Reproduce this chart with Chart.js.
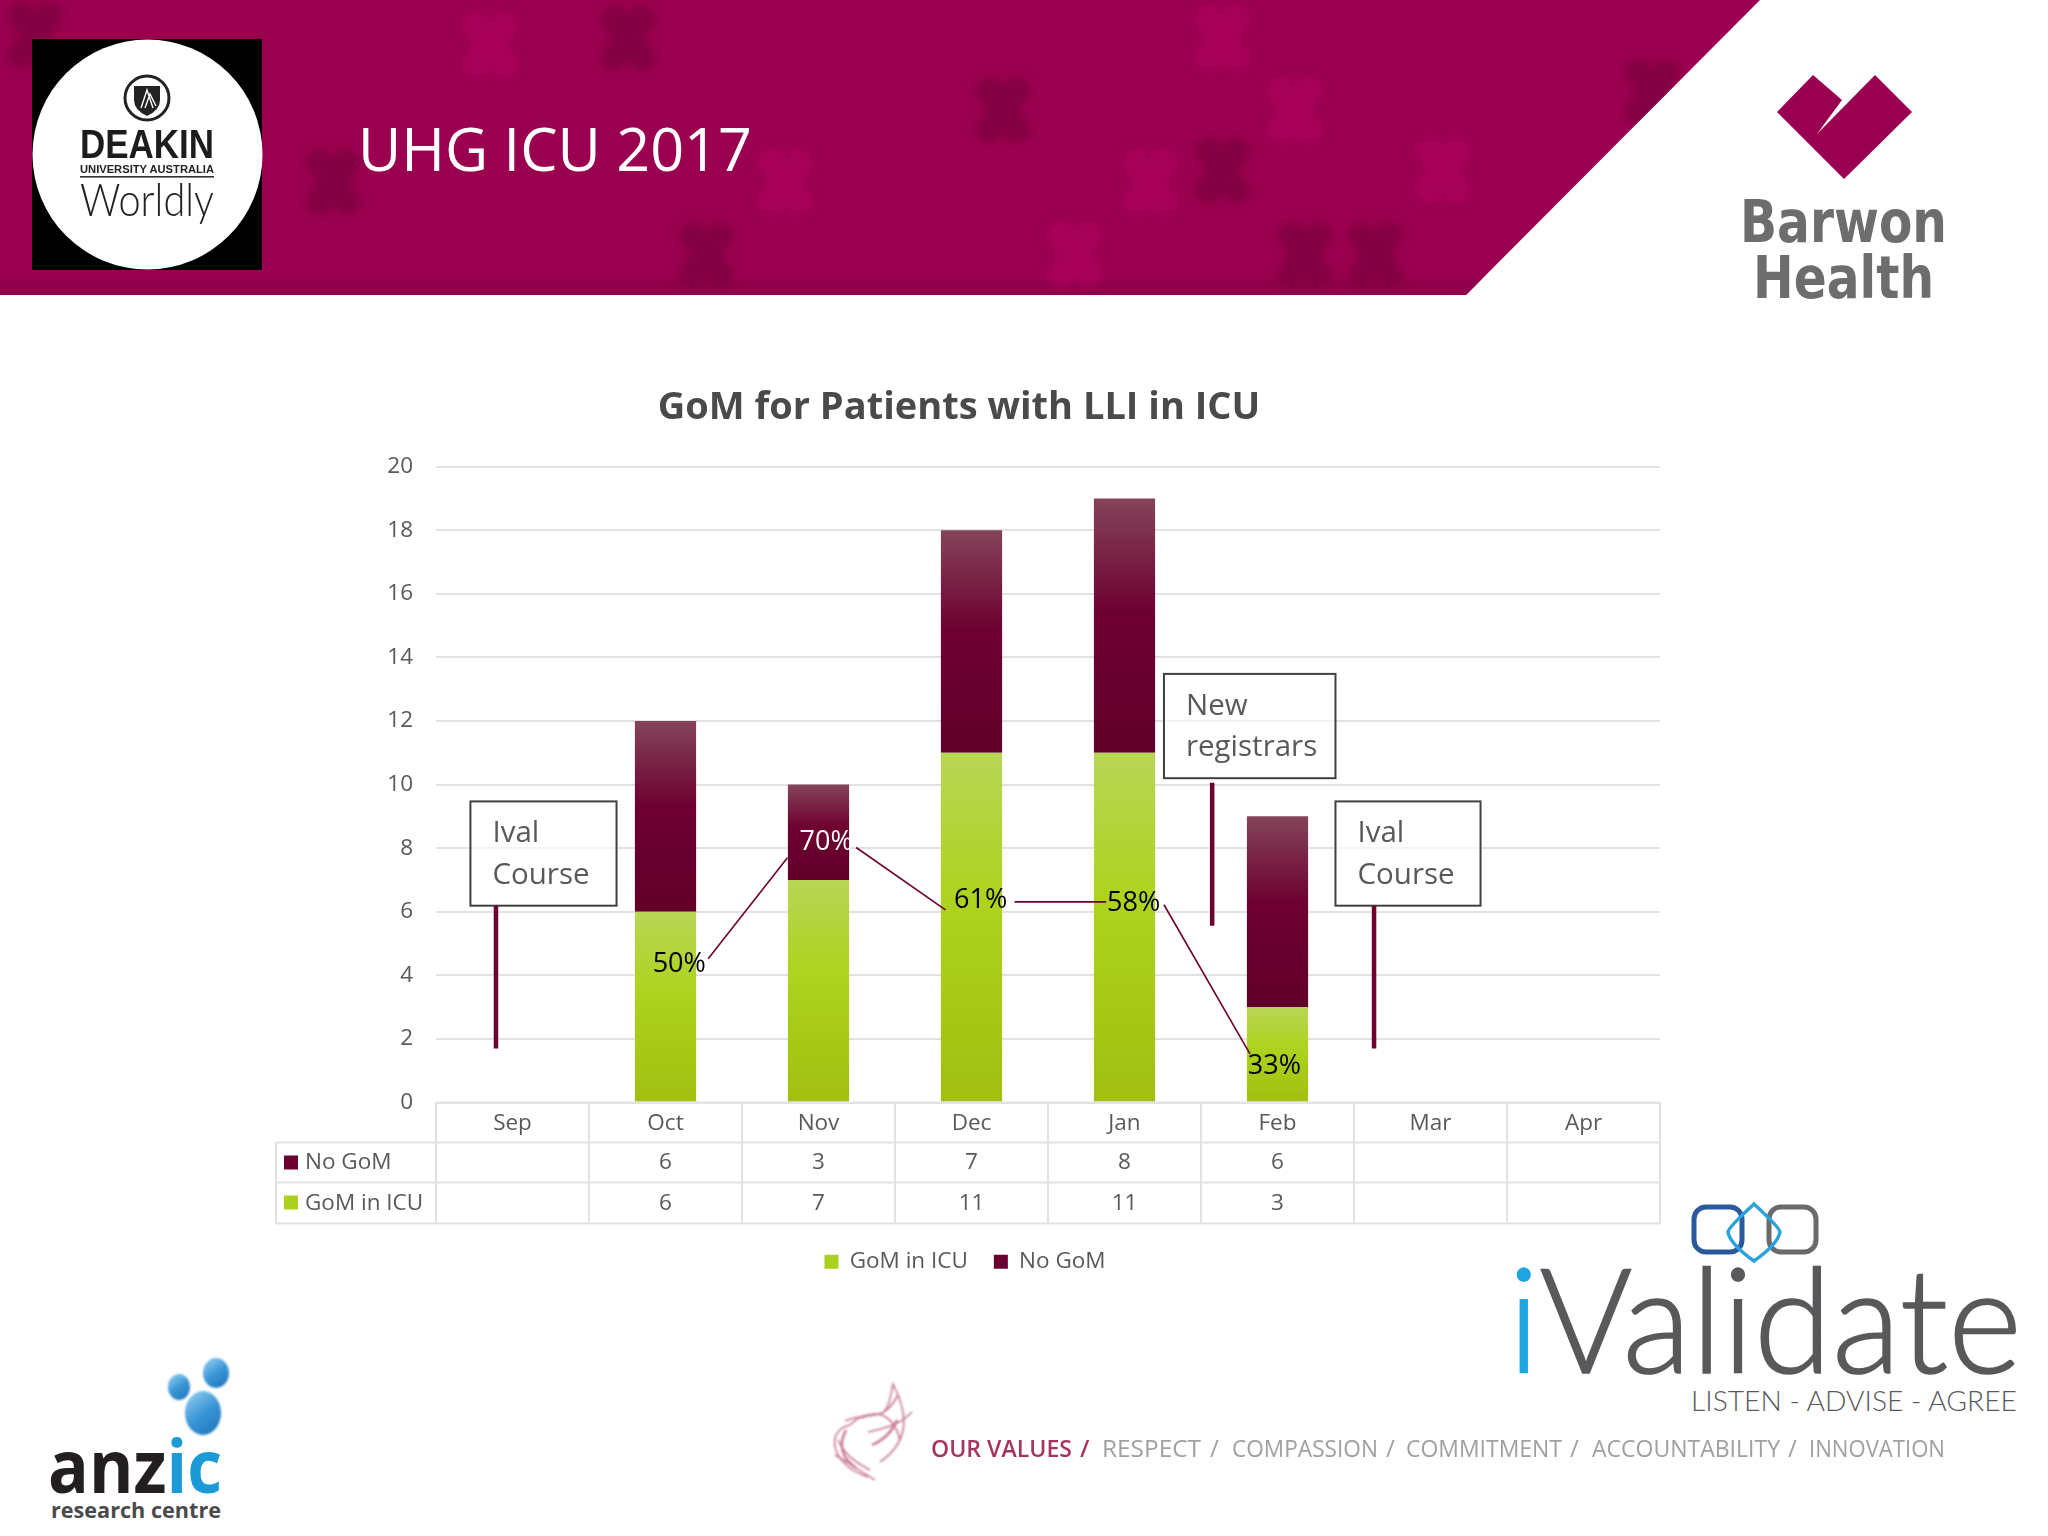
<!DOCTYPE html>
<html>
<head>
<meta charset="utf-8" />
<title>UHG ICU 2017</title>
<script src="https://cdn.jsdelivr.net/npm/chart.js@4"></script>
<style>
 html, body { margin: 0; padding: 0; background: #fff; }
 #page { position: relative; width: 2048px; height: 1536px; overflow: hidden; }
 #page svg { position: absolute; left: 0; top: 0; }
 #chartBox { position: absolute; left: 0; top: 0; width: 2048px; height: 1536px; }
</style>
</head>
<body>
<div id="page">
<svg width="2048" height="1536" xmlns="http://www.w3.org/2000/svg">
  <defs>
    <filter id="soft" x="-50%" y="-50%" width="200%" height="200%"><feGaussianBlur stdDeviation="4" /></filter>
    <filter id="softer" x="-50%" y="-50%" width="200%" height="200%"><feGaussianBlur stdDeviation="1.2" /></filter>
    <filter id="softest" x="-10%" y="-50%" width="120%" height="200%"><feGaussianBlur stdDeviation="0.6" /></filter>
    <clipPath id="headClip"><polygon points="0,0 1760,0 1466,295 0,295" /></clipPath>
    <g id="cross">
      <rect x="-13" y="-36" width="26" height="72" rx="6" transform="rotate(-35)" />
      <rect x="-13" y="-36" width="26" height="72" rx="6" transform="rotate(35)" />
    </g>
    <linearGradient id="bubble" x1="0.2" y1="0" x2="0.8" y2="1">
      <stop offset="0" stop-color="#8ccbef" /><stop offset="0.5" stop-color="#3a97d6" /><stop offset="1" stop-color="#1f78bd" />
    </linearGradient>
  </defs>

  <!-- header band -->
  <polygon points="0,0 1760,0 1466,295 0,295" fill="#9b0050" />
  <g clip-path="url(#headClip)">
    <rect x="0" y="279" width="1500" height="16" fill="#8c0049" opacity="0.7" />
    <g fill="#7d0040" filter="url(#soft)" opacity="0.75">
      <use href="#cross" x="35" y="35" /><use href="#cross" x="628" y="38" /><use href="#cross" x="1003" y="110" />
      <use href="#cross" x="333" y="182" /><use href="#cross" x="706" y="255" /><use href="#cross" x="1222" y="170" />
      <use href="#cross" x="1305" y="255" /><use href="#cross" x="1375" y="255" /><use href="#cross" x="1652" y="92" />
    </g>
    <g fill="#b40062" filter="url(#soft)" opacity="0.55">
      <use href="#cross" x="490" y="45" /><use href="#cross" x="1222" y="38" /><use href="#cross" x="1295" y="110" />
      <use href="#cross" x="785" y="182" /><use href="#cross" x="1150" y="182" /><use href="#cross" x="1443" y="170" />
      <use href="#cross" x="1075" y="255" />
    </g>
  </g>
  <text x="358" y="171" font-family="Open Sans" font-size="60" fill="#ffffff" textLength="394" lengthAdjust="spacingAndGlyphs">UHG ICU 2017</text>

  <!-- Deakin logo -->
  <rect x="32" y="39" width="230" height="231" fill="#000" />
  <circle cx="147.5" cy="154.5" r="115" fill="#fff" />
  <circle cx="147" cy="98" r="22" fill="none" stroke="#222" stroke-width="3" />
  <path d="M134 86 H160 V100 Q160 110 147 116 Q134 110 134 100 Z" fill="#222" />
  <path d="M141 108 L147 90 L153 108 M145 108 L150 94 L156 106" fill="none" stroke="#fff" stroke-width="1.4" />
  <text x="80" y="158" font-family="Liberation Sans Narrow, Liberation Sans" font-weight="700" font-size="41" fill="#1c1c1c" textLength="134" lengthAdjust="spacingAndGlyphs">DEAKIN</text>
  <text x="80" y="173" font-family="Liberation Sans" font-weight="700" font-size="10" fill="#222" textLength="134" lengthAdjust="spacingAndGlyphs">UNIVERSITY AUSTRALIA</text>
  <rect x="80" y="176" width="134" height="1.6" fill="#333" />
  <text x="80" y="216" font-family="Lato" font-weight="300" font-size="46" fill="#222" textLength="134" lengthAdjust="spacingAndGlyphs">Worldly</text>

  <!-- Barwon Health logo -->
  <polygon points="1813,75 1777,112 1817,152 1817,134 1842,100" fill="#9b0050" />
  <polygon points="1875,75 1912,112 1844,179 1817,152 1817,134" fill="#9b0050" />
  <text x="1740" y="242" font-family="DejaVu Sans" font-weight="700" font-size="58" fill="#6d6d6d" textLength="207" lengthAdjust="spacingAndGlyphs">Barwon</text>
  <text x="1753" y="298" font-family="DejaVu Sans" font-weight="700" font-size="58" fill="#6d6d6d" textLength="181" lengthAdjust="spacingAndGlyphs">Health</text>

  <!-- anzic logo -->
  <g fill="url(#bubble)" filter="url(#softer)">
    <ellipse cx="216" cy="1373" rx="13" ry="15" />
    <ellipse cx="179" cy="1387" rx="11" ry="13" />
    <ellipse cx="203" cy="1413" rx="18" ry="22" />
  </g>
  <text x="48" y="1493" font-family="Open Sans" font-weight="700" font-size="74" fill="#231f20" textLength="174" lengthAdjust="spacingAndGlyphs">anz<tspan fill="#1b9ad6">ic</tspan></text>
  <text x="51" y="1518" font-family="Open Sans" font-weight="700" font-size="22" fill="#4a4a4a" textLength="170" lengthAdjust="spacingAndGlyphs">research centre</text>

  <!-- iValidate logo -->
  <rect x="1694" y="1207" width="48" height="45" rx="12" fill="none" stroke="#2a5a9c" stroke-width="5" />
  <rect x="1769" y="1207" width="47" height="45" rx="12" fill="none" stroke="#6a6a6c" stroke-width="5" />
  <path d="M1754 1204 Q1780 1228 1780 1232 Q1778 1244 1754 1261 Q1730 1244 1728 1232 Q1728 1228 1754 1204 Z" fill="none" stroke="#2aa3dc" stroke-width="3.5" />
  <text x="1508" y="1373" font-family="Lato" font-weight="300" font-size="146" fill="#58595b" stroke="#58595b" stroke-width="1.6" textLength="514" lengthAdjust="spacingAndGlyphs"><tspan fill="#1fa5e0" stroke="#1fa5e0">i</tspan>Validate</text>
  <text x="1691" y="1411" font-family="Lato" font-weight="300" font-size="28" fill="#58595b" textLength="326" lengthAdjust="spacingAndGlyphs">LISTEN - ADVISE - AGREE</text>

  <!-- values strip -->
  <g fill="none" stroke="#b5486f" stroke-width="1.6" opacity="0.75" filter="url(#softer)">
    <path d="M850 1425 C875 1400 885 1435 893 1384 C912 1420 905 1445 880 1462" />
    <path d="M850 1425 C825 1430 830 1465 868 1477" />
    <path d="M862 1418 C880 1408 895 1418 900 1440 M838 1440 C845 1455 855 1462 870 1470" />
    <path d="M845 1421 C870 1410 882 1425 898 1395 M868 1432 C885 1428 900 1425 912 1412 M835 1455 C848 1462 858 1470 875 1480" />
    <path d="M872 1445 C884 1440 892 1432 897 1420 M846 1430 C838 1445 842 1458 856 1468" stroke-width="2.4" />
  </g>
  <g filter="url(#softest)" font-family="Open Sans" font-size="24">
    <text x="931" y="1457" font-weight="600" fill="#a5345f" textLength="141" lengthAdjust="spacingAndGlyphs">OUR VALUES</text>
    <text x="1080" y="1457" font-weight="600" fill="#a5345f">/</text>
    <g fill="#a0a0a0">
      <text x="1102" y="1457" textLength="99" lengthAdjust="spacingAndGlyphs">RESPECT</text>
      <text x="1210" y="1457">/</text>
      <text x="1232" y="1457" textLength="146" lengthAdjust="spacingAndGlyphs">COMPASSION</text>
      <text x="1386" y="1457">/</text>
      <text x="1406" y="1457" textLength="156" lengthAdjust="spacingAndGlyphs">COMMITMENT</text>
      <text x="1570" y="1457">/</text>
      <text x="1592" y="1457" textLength="188" lengthAdjust="spacingAndGlyphs">ACCOUNTABILITY</text>
      <text x="1788" y="1457">/</text>
      <text x="1809" y="1457" textLength="136" lengthAdjust="spacingAndGlyphs">INNOVATION</text>
    </g>
  </g>
</svg>
<div id="chartBox"><canvas id="chart" width="2048" height="1536"></canvas></div>
</div>

<script>
// values
var months = ["Sep", "Oct", "Nov", "Dec", "Jan", "Feb", "Mar", "Apr"];
var gomInIcu = [null, 6, 7, 11, 11, 3, null, null];
var noGom = [null, 6, 3, 7, 8, 6, null, null];
var pctLabels = ["50%", "70%", "61%", "58%", "33%"];

var textGrey = "#595959";
var fontName = "Open Sans";

// annotations, all in axis units (category index, y value)
var pctSpots = [[1.09, 4.36, "#000"], [2.05, 8.17, "#fff"], [3.06, 6.37, "#000"], [4.06, 6.27, "#000"], [4.98, 1.13, "#000"]];
var pctLinks = [[1.279, 4.52, 1.797, 7.70], [2.246, 8.02, 2.83, 6.06], [3.281, 6.31, 3.88, 6.31], [4.258, 6.22, 4.82, 1.53]];
var callouts = [
    { lines: ["Ival", "Course"], box: [-0.275, 9.47, 0.68, 6.19], stem: [-0.108, 6.19, 1.7] },
    { lines: ["New", "registrars"], box: [4.258, 13.48, 5.379, 10.2], stem: [4.573, 10.06, 5.56] },
    { lines: ["Ival", "Course"], box: [5.379, 9.47, 6.327, 6.19], stem: [5.631, 6.19, 1.7] }
];

function barFill(stops, solid, lowFn, highFn) {
    return function (ctx) {
        if (ctx.type !== "data" || gomInIcu[ctx.dataIndex] === null) return solid;
        var y = ctx.chart.scales.y;
        var g = ctx.chart.ctx.createLinearGradient(0, y.getPixelForValue(highFn(ctx.dataIndex)), 0, y.getPixelForValue(lowFn(ctx.dataIndex)));
        stops.forEach(function (s) { g.addColorStop(s[0], s[1]); });
        return g;
    };
}

var slidePlugin = {
    id: "slideExtras",
    afterLayout: function (chart) {
        // title and legend sit a little left of the padded centre on the slide
        chart.titleBlock.left -= 9;
        chart.titleBlock.right -= 9;
        chart.legend.left -= 3;
        chart.legend.right -= 3;
    },
    afterDraw: function (chart) {
        var c = chart.ctx, x = chart.scales.x, y = chart.scales.y;
        var colW = x.getPixelForValue(1) - x.getPixelForValue(0);
        var left = x.left, right = x.right, tableLeft = y.left;
        var rowTop = chart.chartArea.bottom;
        var rows = [rowTop, rowTop + 40, rowTop + 80, rowTop + 121];

        // data table
        c.save();
        c.strokeStyle = "#e3e1e6";
        c.lineWidth = 2;
        c.beginPath();
        c.moveTo(left, rows[0]); c.lineTo(right, rows[0]);
        c.moveTo(tableLeft, rows[1]); c.lineTo(right, rows[1]);
        c.moveTo(tableLeft, rows[2]); c.lineTo(right, rows[2]);
        c.moveTo(tableLeft, rows[3]); c.lineTo(right, rows[3]);
        c.moveTo(tableLeft, rows[1]); c.lineTo(tableLeft, rows[3]);
        for (var i = 0; i <= months.length; i++) {
            c.moveTo(left + i * colW, rows[0]); c.lineTo(left + i * colW, rows[3]);
        }
        c.stroke();

        c.font = "22.5px '" + fontName + "'";
        c.fillStyle = textGrey;
        c.textBaseline = "middle";
        c.textAlign = "center";
        months.forEach(function (m, i) {
            var px = x.getPixelForValue(i);
            if (noGom[i] !== null) c.fillText(noGom[i], px, rows[1] + 20);
            if (gomInIcu[i] !== null) c.fillText(gomInIcu[i], px, rows[2] + 21);
        });
        c.textAlign = "left";
        c.fillStyle = "#6a0030";
        c.fillRect(tableLeft + 8, rows[1] + 13, 14, 14);
        c.fillStyle = "#acd020";
        c.fillRect(tableLeft + 8, rows[2] + 13, 14, 14);
        c.fillStyle = textGrey;
        c.fillText("No GoM", tableLeft + 29, rows[1] + 20);
        c.fillText("GoM in ICU", tableLeft + 29, rows[2] + 21);

        // percent trail
        c.strokeStyle = "#6e0030";
        c.lineWidth = 1.6;
        pctLinks.forEach(function (l) {
            c.beginPath();
            c.moveTo(x.getPixelForValue(l[0]), y.getPixelForValue(l[1]));
            c.lineTo(x.getPixelForValue(l[2]), y.getPixelForValue(l[3]));
            c.stroke();
        });
        c.font = "27px '" + fontName + "'";
        c.textAlign = "center";
        pctLabels.forEach(function (t, i) {
            c.fillStyle = pctSpots[i][2];
            c.fillText(t, x.getPixelForValue(pctSpots[i][0]), y.getPixelForValue(pctSpots[i][1]));
        });

        // callouts
        callouts.forEach(function (b) {
            var bx = x.getPixelForValue(b.box[0]), by = y.getPixelForValue(b.box[1]);
            var bw = x.getPixelForValue(b.box[2]) - bx, bh = y.getPixelForValue(b.box[3]) - by;
            c.fillStyle = "rgba(255,255,255,0.6)";
            c.fillRect(bx, by, bw, bh);
            c.strokeStyle = "#404040";
            c.lineWidth = 2;
            c.strokeRect(bx, by, bw, bh);
            c.strokeStyle = "#6e0030";
            c.lineWidth = 4.5;
            c.beginPath();
            c.moveTo(x.getPixelForValue(b.stem[0]), y.getPixelForValue(b.stem[1]));
            c.lineTo(x.getPixelForValue(b.stem[0]), y.getPixelForValue(b.stem[2]));
            c.stroke();
            c.font = "29.5px '" + fontName + "'";
            c.fillStyle = textGrey;
            c.textAlign = "left";
            c.fillText(b.lines[0], bx + 22, by + bh * 0.31);
            c.fillText(b.lines[1], bx + 22, by + bh * 0.71);
        });
        c.restore();
    }
};

Chart.defaults.font.family = fontName;
Chart.defaults.color = textGrey;

new Chart(document.getElementById("chart"), {
    type: "bar",
    data: {
        labels: months,
        datasets: [
            {
                label: "GoM in ICU",
                data: gomInIcu,
                backgroundColor: barFill([[0, "#b8d656"], [0.4, "#aed320"], [1, "#a2bf10"]], "#acd020",
                    function () { return 0; }, function (i) { return gomInIcu[i]; })
            },
            {
                label: "No GoM",
                data: noGom,
                backgroundColor: barFill([[0, "#84445a"], [0.45, "#6e0030"], [1, "#62002a"]], "#6a0030",
                    function (i) { return gomInIcu[i]; }, function (i) { return gomInIcu[i] + noGom[i]; })
            }
        ]
    },
    plugins: [slidePlugin],
    options: {
        responsive: false,
        animation: false,
        devicePixelRatio: 1,
        layout: { padding: { left: 276, right: 388, top: 0, bottom: 253 } },
        datasets: { bar: { barPercentage: 0.4, categoryPercentage: 1 } },
        scales: {
            x: {
                stacked: true,
                grid: { display: false },
                border: { display: false },
                ticks: { font: { size: 22.5 }, color: textGrey, padding: 0, maxRotation: 0 },
                afterFit: function (scale) { scale.height = 122; }
            },
            y: {
                stacked: true,
                min: 0,
                max: 20,
                grid: { color: "#e2e2e2", lineWidth: 2, drawTicks: false },
                border: { display: false },
                ticks: { stepSize: 2, font: { size: 22.5 }, color: textGrey, padding: 23 },
                afterFit: function (scale) { scale.width = 160; }
            }
        },
        plugins: {
            title: {
                display: true,
                text: "GoM for Patients with LLI in ICU",
                color: "#4a4a4a",
                font: { size: 38, weight: "bold" },
                padding: { top: 385, bottom: 36 }
            },
            legend: {
                position: "bottom",
                labels: { boxWidth: 14, boxHeight: 14, padding: 26, font: { size: 22.5 }, color: textGrey }
            },
            tooltip: { enabled: false }
        }
    }
});
</script>
</body>
</html>
